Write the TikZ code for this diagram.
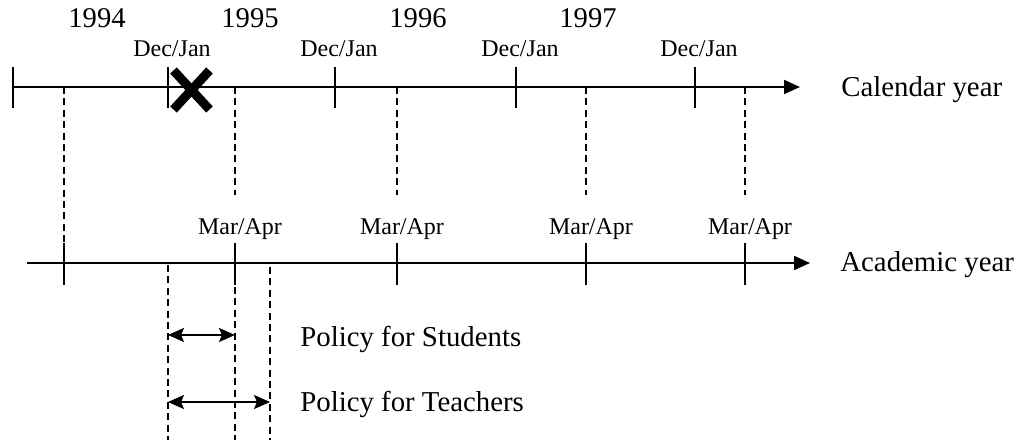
\documentclass[tikz,border=0pt]{standalone}
\usepackage{fontspec}
\setmainfont{Liberation Serif}
\usetikzlibrary{arrows.meta}

\begin{document}
\begin{tikzpicture}[
  x=0.5pt, y=-0.5pt,
  axis/.style={line width=1pt, -{Triangle[length=8pt, width=7pt]}},
  tick/.style={line width=0.55pt},
  guide/.style={line width=0.85pt, dash pattern=on 3.5pt off 2.2pt},
  span/.style={line width=0.9pt, {Stealth[length=8pt, width=7pt, inset=1.5pt]}-{Stealth[length=8pt, width=7pt, inset=1.5pt]}},
  yr/.style={font=\fontsize{14.3}{16}\selectfont, inner sep=0pt, anchor=base},
  mon/.style={font=\fontsize{12}{13}\selectfont, inner sep=0pt, anchor=base},
  lbl/.style={font=\fontsize{14.4}{16}\selectfont, inner sep=0pt, anchor=base west}
]
\useasboundingbox (0,0) rectangle (1019,443);

% the two time axes
\coordinate (cal0) at (13,87);
\coordinate (calend) at (800,87);
\coordinate (aca0) at (27,263);
\coordinate (acaend) at (810,263);
\draw[axis] (cal0) -- (calend);
\draw[axis] (aca0) -- (acaend);
\node[lbl] (calname) at (841,97) {Calendar year};
\node[lbl] (acaname) at (840,272) {Academic year};

% years and Dec/Jan
\draw[tick] (13,67) -- (13,108);
\foreach \yr/\x in {1994/97, 1995/250, 1996/418, 1997/588}
  \node[yr] (y\yr) at (\x,28) {\yr};
\foreach \x [count=\i] in {168,335,516,695} {
  \draw[tick] (\x,67) -- (\x,108);
  \node[mon] (dj\i) at (\x+4,57) {Dec/Jan};
}

% first academic year start
\coordinate (top0) at (64,87);
\coordinate (bot0) at (64,243);
\draw[guide] (top0) -- (bot0);
\draw[tick] (64,243) -- (64,285);

% Mar/Apr
\foreach \x [count=\i] in {235,397,586,745} {
  \coordinate (top\i) at (\x,87);
  \coordinate (bot\i) at (\x,195);
  \draw[guide] (top\i) -- (bot\i);
  \draw[tick] (\x,243) -- (\x,285);
  \node[mon] (ma\i) at (\x+5,235) {Mar/Apr};
}

% cancelled point
\draw[line width=4.5pt] (173.5,70.5) -- (209.5,109.5) (173.5,109.5) -- (209.5,70.5);

% policy periods
\coordinate (pstart) at (168,265);
\coordinate (pmid) at (235,287);
\coordinate (pend) at (270,267);
\draw[guide] (pstart) -- (168,440);
\draw[guide] (pmid) -- (235,440);
\draw[guide] (pend) -- (270,440);
\draw[span] (168,335) -- (235,335);
\draw[span] (168,402) -- (270,402);
\node[lbl] (stud) at (300,347) {Policy for Students};
\node[lbl] (teach) at (300,412) {Policy for Teachers};
\end{tikzpicture}
\end{document}
